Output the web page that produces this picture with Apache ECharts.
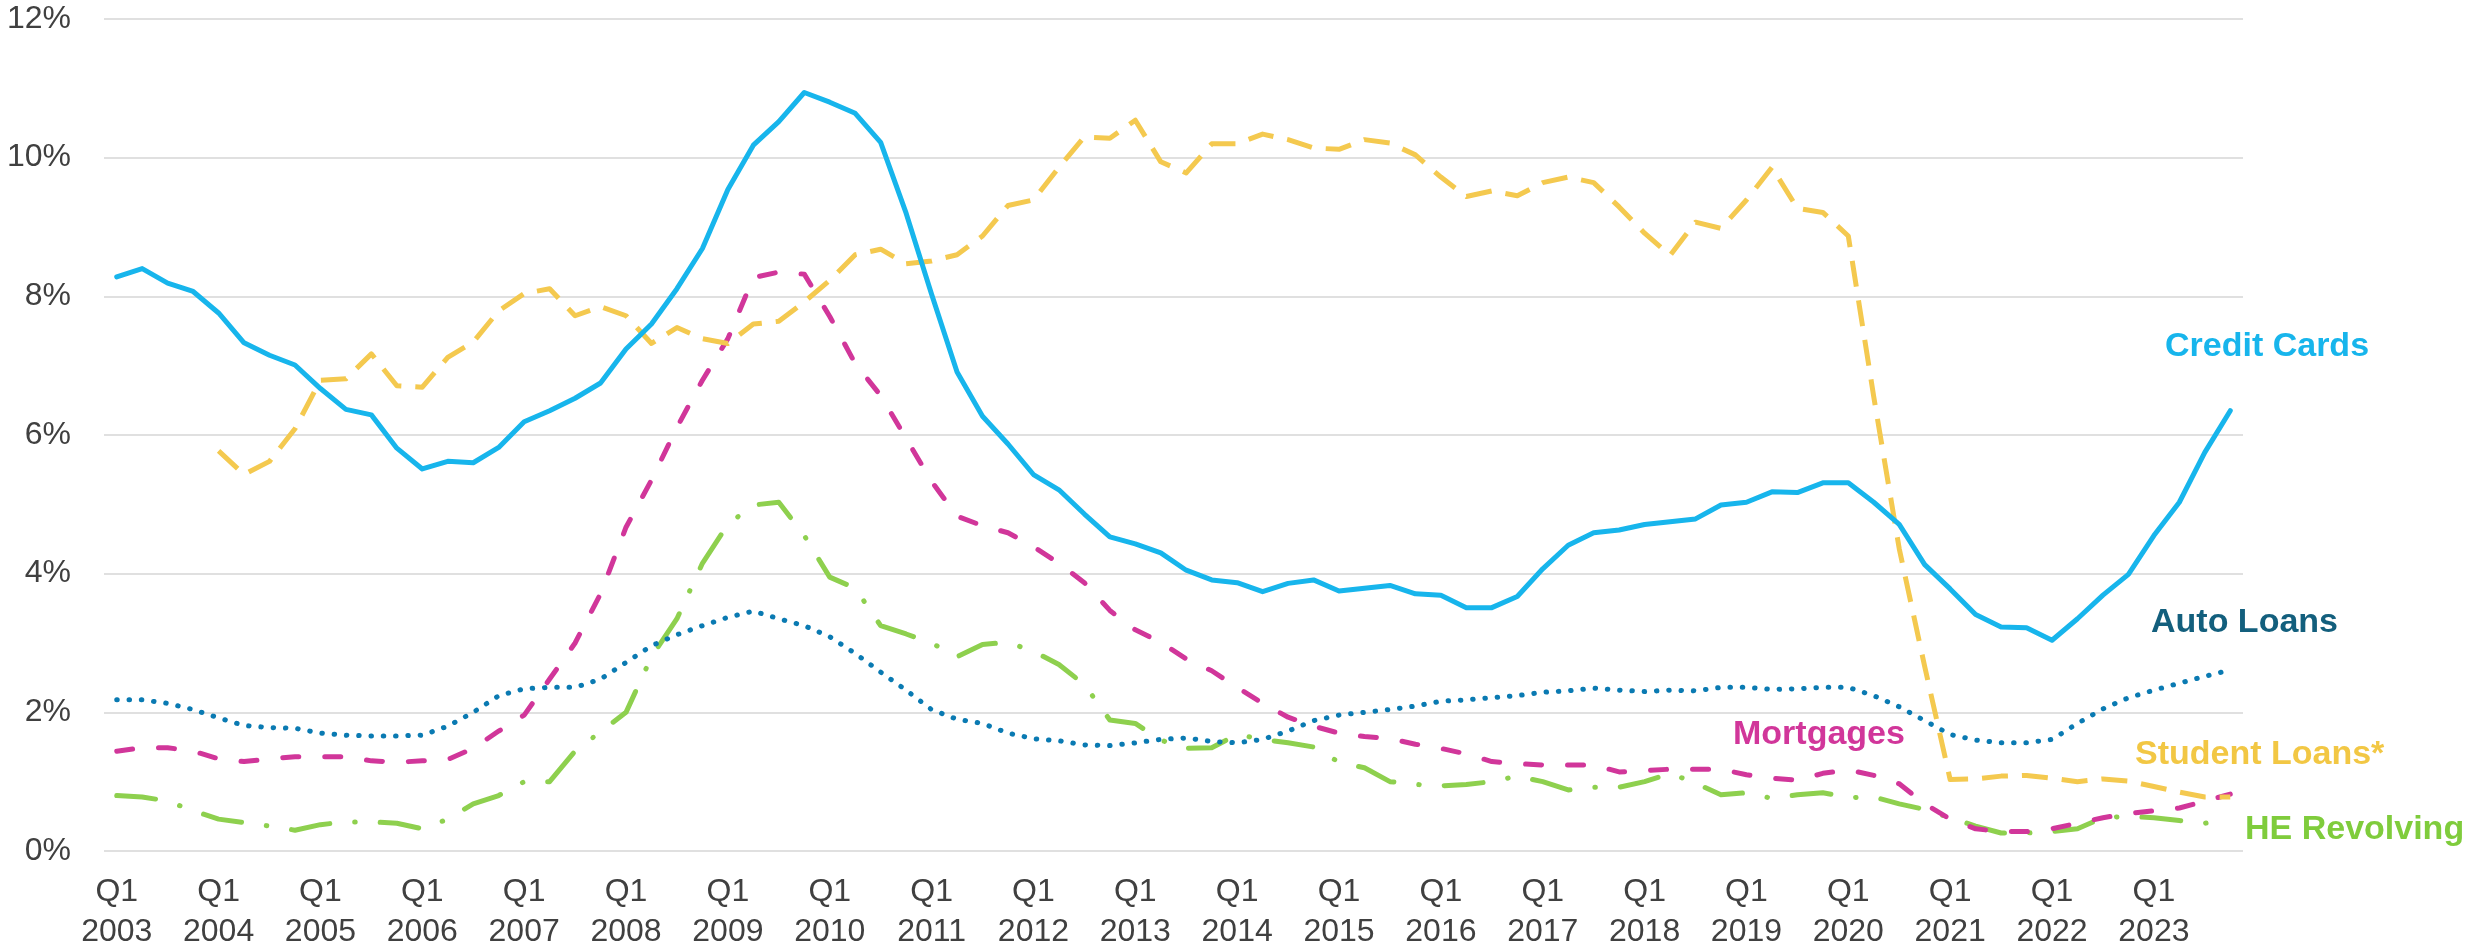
<!DOCTYPE html>
<html>
<head>
<meta charset="utf-8">
<title>Delinquency by loan type</title>
<script src="https://cdn.jsdelivr.net/npm/echarts@6/dist/echarts.min.js"></script>
<style>
  html, body { margin: 0; padding: 0; background: #fff; }
  #chart { width: 2466px; height: 952px; }
</style>
</head>
<body>
<div id="chart"></div>
<script>
// quarters Q1 2003 .. Q4 2023
const years = [2003, 2004, 2005, 2006, 2007, 2008, 2009, 2010, 2011, 2012, 2013,
  2014, 2015, 2016, 2017, 2018, 2019, 2020, 2021, 2022, 2023]
const quarters = ['Q1', 'Q2', 'Q3', 'Q4']
const categories = years.flatMap(y => quarters.map(q => q + '\n' + y))

const creditCards = [
  8.28, 8.40, 8.19, 8.07, 7.76, 7.33, 7.15, 7.01, 6.67, 6.37, 6.29, 5.81,
  5.51, 5.62, 5.60, 5.82, 6.19, 6.35, 6.53, 6.75, 7.24, 7.60, 8.11, 8.69,
  9.54, 10.18, 10.52, 10.94, 10.80, 10.64, 10.22, 9.20, 8.03, 6.91, 6.27, 5.87,
  5.43, 5.21, 4.86, 4.53, 4.43, 4.30, 4.05, 3.91, 3.87, 3.74, 3.86, 3.91,
  3.75, 3.79, 3.83, 3.71, 3.69, 3.51, 3.51, 3.67, 4.07, 4.41, 4.59, 4.63,
  4.71, 4.75, 4.79, 4.99, 5.03, 5.18, 5.17, 5.31, 5.31, 5.03, 4.71, 4.13,
  3.78, 3.41, 3.23, 3.22, 3.04, 3.35, 3.69, 3.99, 4.55, 5.03, 5.75, 6.35
]
const autoLoans = [
  2.18, 2.18, 2.13, 2.04, 1.92, 1.81, 1.78, 1.77, 1.70, 1.67, 1.66, 1.66,
  1.67, 1.80, 2.00, 2.24, 2.34, 2.36, 2.36, 2.48, 2.72, 2.96, 3.12, 3.25,
  3.37, 3.46, 3.35, 3.25, 3.09, 2.85, 2.58, 2.32, 2.04, 1.90, 1.84, 1.70,
  1.62, 1.59, 1.53, 1.52, 1.56, 1.61, 1.63, 1.58, 1.56, 1.61, 1.73, 1.88,
  1.96, 2.00, 2.04, 2.09, 2.16, 2.18, 2.21, 2.24, 2.29, 2.31, 2.35, 2.32,
  2.30, 2.32, 2.31, 2.36, 2.36, 2.33, 2.34, 2.36, 2.36, 2.24, 2.08, 1.88,
  1.68, 1.60, 1.56, 1.56, 1.61, 1.84, 2.05, 2.21, 2.32, 2.42, 2.52, 2.61
]
const mortgages = [
  1.44, 1.49, 1.49, 1.44, 1.33, 1.29, 1.33, 1.36, 1.36, 1.36, 1.30, 1.28,
  1.30, 1.32, 1.48, 1.73, 1.96, 2.48, 3.00, 3.71, 4.67, 5.35, 6.11, 6.79,
  7.39, 8.27, 8.35, 8.32, 7.71, 7.03, 6.57, 5.95, 5.33, 4.83, 4.69, 4.59,
  4.39, 4.15, 3.87, 3.47, 3.19, 3.01, 2.77, 2.60, 2.36, 2.13, 1.93, 1.80,
  1.70, 1.65, 1.62, 1.54, 1.48, 1.40, 1.29, 1.26, 1.24, 1.24, 1.24, 1.14,
  1.16, 1.18, 1.18, 1.18, 1.10, 1.05, 1.02, 1.12, 1.17, 1.09, 0.97, 0.68,
  0.46, 0.32, 0.28, 0.28, 0.32, 0.40, 0.48, 0.54, 0.58, 0.62, 0.72, 0.82
]
const studentLoans = [
  null, null, null, null, 5.77, 5.43, 5.62, 6.09, 6.79, 6.81, 7.17, 6.71,
  6.69, 7.12, 7.34, 7.79, 8.04, 8.11, 7.72, 7.85, 7.72, 7.32, 7.55, 7.39,
  7.32, 7.60, 7.64, 7.92, 8.23, 8.60, 8.68, 8.47, 8.51, 8.60, 8.87, 9.31,
  9.39, 9.86, 10.30, 10.28, 10.54, 9.94, 9.78, 10.20, 10.20, 10.34, 10.26, 10.14,
  10.12, 10.26, 10.21, 10.04, 9.72, 9.44, 9.52, 9.45, 9.64, 9.72, 9.64, 9.29,
  8.91, 8.59, 9.07, 8.98, 9.39, 9.86, 9.27, 9.21, 8.87, 6.55, 4.36, 2.66,
  1.03, 1.04, 1.08, 1.09, 1.05, 1.00, 1.04, 1.01, 0.93, 0.85, 0.78, 0.78
]
const heRevolving = [
  0.80, 0.78, 0.72, 0.58, 0.46, 0.41, 0.36, 0.30, 0.38, 0.42, 0.42, 0.40,
  0.32, 0.46, 0.68, 0.80, 1.00, 1.00, 1.44, 1.72, 2.00, 2.80, 3.35, 4.15,
  4.71, 4.99, 5.03, 4.55, 3.95, 3.79, 3.25, 3.13, 3.00, 2.80, 2.98, 3.01,
  2.88, 2.69, 2.40, 1.89, 1.84, 1.60, 1.48, 1.49, 1.68, 1.61, 1.56, 1.50,
  1.28, 1.20, 1.00, 0.96, 0.94, 0.96, 1.00, 1.08, 1.00, 0.88, 0.92, 0.92,
  1.00, 1.12, 0.98, 0.81, 0.84, 0.76, 0.81, 0.84, 0.77, 0.78, 0.68, 0.60,
  0.48, 0.36, 0.26, 0.26, 0.28, 0.32, 0.48, 0.50, 0.48, 0.44, 0.40, 0.46
]

const FONT = '"Liberation Sans", Arial, sans-serif'

let myChart = echarts.init(document.getElementById('chart'))

function lineSeries(name, data, color, width, type, cap) {
  return {
    name: name,
    type: 'line',
    data: data,
    symbol: 'none',
    connectNulls: false,
    lineStyle: { color: color, width: width, type: type, cap: cap || 'butt', join: 'round' },
    silent: true
  }
}

function label(text, x, y, color) {
  return {
    type: 'text',
    x: x,
    y: y,
    style: {
      text: text,
      fill: color,
      font: 'bold 34px ' + FONT,
      verticalAlign: 'middle'
    }
  }
}

let option = {
  animation: false,
  backgroundColor: '#ffffff',
  grid: { left: 104, right: 223, top: 19, bottom: 100 },
  xAxis: {
    type: 'category',
    data: categories,
    boundaryGap: true,
    axisLine: { show: false },
    axisTick: { show: false },
    axisLabel: {
      interval: 3,
      margin: 21,
      color: '#404040',
      fontFamily: FONT,
      fontSize: 32,
      lineHeight: 40
    }
  },
  yAxis: {
    type: 'value',
    min: 0,
    max: 12,
    interval: 2,
    axisLine: { show: false },
    axisTick: { show: false },
    axisLabel: {
      formatter: '{value}%',
      margin: 33,
      color: '#404040',
      fontFamily: FONT,
      fontSize: 32
    },
    splitLine: { lineStyle: { color: '#e0e0e0', width: 2 } }
  },
  series: [
    lineSeries('HE Revolving', heRevolving, '#8ed04e', 5, [39, 25, 0.5, 25], 'round'),
    lineSeries('Auto Loans', autoLoans, '#0a7ab2', 5, [0.5, 11.8], 'round'),
    lineSeries('Mortgages', mortgages, '#d1369a', 5, [16, 26], 'round'),
    lineSeries('Student Loans*', studentLoans, '#f4c94f', 5, [26, 14], 'butt'),
    lineSeries('Credit Cards', creditCards, '#17b5ec', 5, 'solid', 'round')
  ],
  graphic: [
    label('Credit Cards', 2165, 347, '#17b5ec'),
    label('Auto Loans', 2151, 623, '#135f7d'),
    label('Mortgages', 1733, 735, '#d1369a'),
    label('Student Loans*', 2135, 755, '#f2c744'),
    label('HE Revolving', 2245, 830, '#7fcc3c')
  ]
}

myChart.setOption(option)
</script>
</body>
</html>
